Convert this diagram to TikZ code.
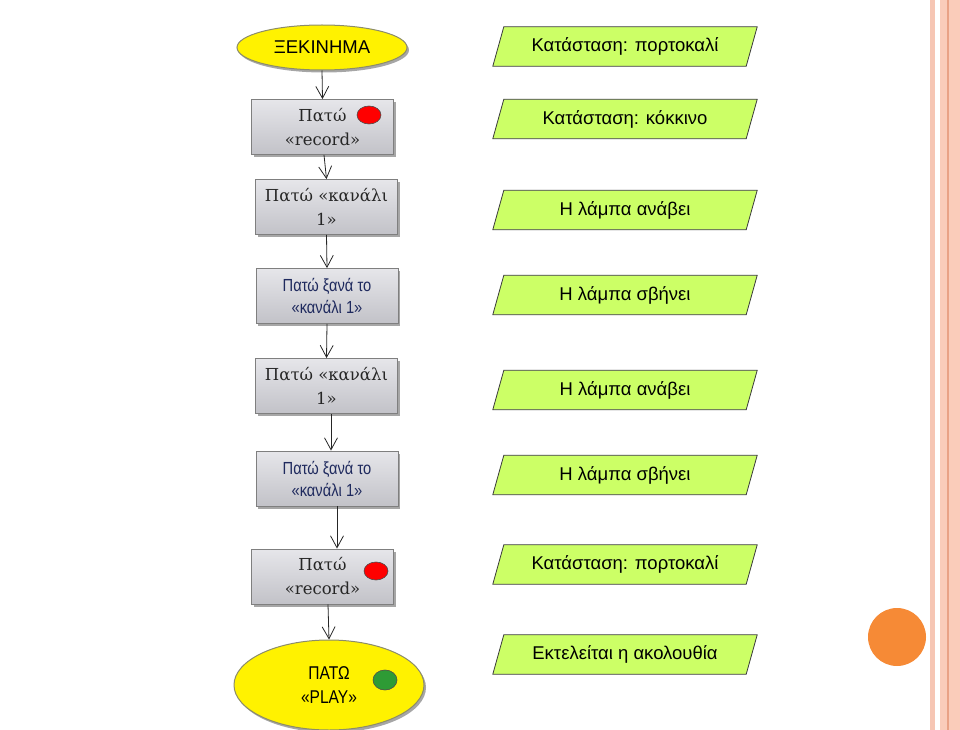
\documentclass[tikz,border=0pt]{standalone}
\usepackage{fontspec}
\setmainfont{Liberation Sans}
\newfontfamily\serifgr{DejaVu Serif}
\newfontfamily\narrowsans[FakeStretch=0.84]{Liberation Sans}
\usetikzlibrary{shapes.geometric,shadows,arrows.meta,backgrounds}
\definecolor{paraGreen}{HTML}{CCFF66}
\definecolor{paraLine}{HTML}{3A3A3A}
\definecolor{boxTop}{HTML}{E6E6EA}
\definecolor{boxBot}{HTML}{C2C2C8}
\definecolor{boxLine}{HTML}{7F7F7F}
\definecolor{navyText}{HTML}{1F2A5E}
\definecolor{serifText}{HTML}{262626}
\definecolor{ledRed}{HTML}{FF0000}
\definecolor{ledGreen}{HTML}{2E9B35}
\definecolor{orangeDot}{HTML}{F68A36}
\definecolor{stripeA}{HTML}{F6C6B4}
\definecolor{stripeB}{HTML}{FACCBA}
\definecolor{stripeC}{HTML}{E9A286}
\definecolor{yellowLine}{HTML}{8C8C6A}
\newcommand\pbox[4]{%
  \node[ptext] (#1) at (#2,#3) {#4};
  \begin{scope}[on background layer]
    \filldraw[pgram] ([xshift=-5.5pt]#1.south west) -- ([xshift=5.5pt]#1.north west)
      -- ([xshift=5.5pt]#1.north east) -- ([xshift=-5.5pt]#1.south east) -- cycle;
  \end{scope}}
\begin{document}
\begin{tikzpicture}[x=1pt,y=-1pt,
  lbox/.style={rectangle, draw=boxLine, line width=0.8pt, top color=boxTop, bottom color=boxBot,
    minimum width=142pt, minimum height=55pt, inner sep=0pt, align=center,
    drop shadow={shadow xshift=2pt, shadow yshift=-2.5pt, opacity=0.35, fill=black}},
  sertext/.style={font=\serifgr\fontsize{16.5}{24}\selectfont, text=serifText},
  navtext/.style={font=\narrowsans\fontsize{17.5}{22}\selectfont, text=navyText},
  yell/.style={ellipse, draw=yellowLine, line width=1pt, fill=yellow, inner sep=0pt, align=center,
    drop shadow={shadow xshift=2pt, shadow yshift=-2.5pt, opacity=0.35, fill=black}},
  ptext/.style={rectangle, minimum width=253pt, minimum height=39pt, inner sep=0pt,
    font=\fontsize{18.5}{22}\selectfont, text=black},
  pgram/.style={fill=paraGreen, draw=paraLine, line width=0.8pt},
  led/.style={ellipse, draw=black!70, line width=0.6pt, inner sep=0pt},
  arr/.style={draw=black!85, line width=0.8pt, -{Straight Barb[length=12pt,width=13pt]}}
]
\useasboundingbox (0,0) rectangle (960,730);

% right decoration
\fill[stripeA] (930,0) rectangle (934.5,730);
\fill[stripeB] (940,0) rectangle (960,730);
\fill[stripeC] (947,0) rectangle (949,730);
\node[circle, fill=orangeDot, minimum width=58pt, minimum height=57pt, inner sep=0pt] (orange) at (897,637) {};

% left column
\node[yell, minimum width=170pt, minimum height=45pt, font=\fontsize{18.5}{22}\selectfont] (start) at (322,47.5) {ΞΕΚΙΝΗΜΑ};
\node[lbox, sertext] (b1) at (322.5,127) {Πατώ\\«record»};
\node[led, fill=ledRed, minimum width=24pt, minimum height=18pt] (led1) at (369,115) {};
\node[lbox, sertext] (b2) at (326.5,207) {Πατώ «κανάλι\\1»};
\node[lbox, navtext] (b3) at (327,296) {Πατώ ξανά το\\«κανάλι 1»};
\node[lbox, sertext] (b4) at (326.5,386) {Πατώ «κανάλι\\1»};
\node[lbox, navtext] (b5) at (327,478.5) {Πατώ ξανά το\\«κανάλι 1»};
\node[lbox, sertext] (b6) at (322.5,576.5) {Πατώ\\«record»};
\node[led, fill=ledRed, minimum width=24pt, minimum height=18pt] (led2) at (376,571) {};
\node[yell, minimum width=190pt, minimum height=90pt, font=\narrowsans\fontsize{18.5}{24}\selectfont] (play) at (329,685) {ΠΑΤΩ\\«PLAY»};
\node[led, fill=ledGreen, minimum width=24pt, minimum height=20pt] (led3) at (385,680) {};

\draw[arr] (start.south) -- (b1.north);
\draw[arr] ([xshift=1.5pt]b1.south) -- (b2.north);
\draw[arr] (b2.south) -- (b3.north);
\draw[arr] (b3.south) -- (b4.north);
\draw[arr] ([xshift=4.5pt]b4.south) -- ([xshift=4pt]b5.north);
\draw[arr] ([xshift=10pt]b5.south) -- ([xshift=14.5pt]b6.north);
\draw[arr] ([xshift=5.5pt]b6.south) -- (play.north);

% right column
\pbox{p1}{625}{46.5}{Κατάσταση: πορτοκαλί}
\pbox{p2}{625}{119}{Κατάσταση: κόκκινο}
\pbox{p3}{625}{210}{Η λάμπα ανάβει}
\pbox{p4}{625}{295}{Η λάμπα σβήνει}
\pbox{p5}{625}{390}{Η λάμπα ανάβει}
\pbox{p6}{625}{475}{Η λάμπα σβήνει}
\pbox{p7}{625}{564.5}{Κατάσταση: πορτοκαλί}
\pbox{p8}{625}{654.5}{Εκτελείται η ακολουθία}
\end{tikzpicture}
\end{document}
